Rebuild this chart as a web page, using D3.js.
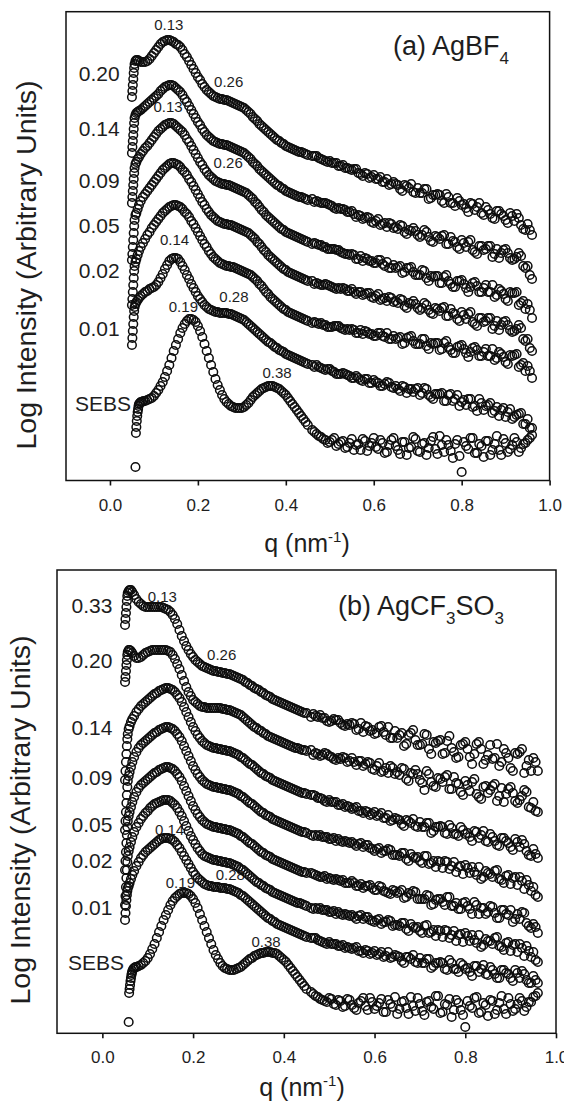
<!DOCTYPE html>
<html>
<head>
<meta charset="utf-8">
<script src="https://cdn.jsdelivr.net/npm/d3@7"></script>
<style>
  body { margin: 0; background: #fff; }
  svg { display: block; }
  text { font-family: "Liberation Sans", Arial, Helvetica, sans-serif; fill: #1e1e1e; }
</style>
</head>
<body>
<svg id="fig" width="564" height="1105"></svg>
<script>
// q grid (nm^-1) shared by the salt curves
const qLow = [0.050,0.051,0.052,0.053,0.054,0.055,0.056,0.058,0.060,0.063,0.066,0.070,0.075]
const qMid = [0.080,0.085,0.090,0.095,0.100,0.105,0.110,0.115,0.120,0.125,0.130,0.135,0.140,0.145,0.150,
  0.155,0.160,0.165,0.170,0.175,0.180,0.185,0.190,0.195,0.200,0.205,0.210,0.215,0.220,0.225,
  0.230,0.235,0.240,0.245,0.250,0.255,0.260,0.265,0.270,0.275,0.280,0.285,0.290,0.295,0.300,
  0.305,0.310,0.315,0.320,0.325,0.330,0.335,0.340,0.345,0.350,0.355,0.360,0.365,0.370,0.375,
  0.380,0.385,0.390,0.395,0.400,0.405,0.410,0.415,0.420,0.425,0.430,0.435,0.440,0.445,0.450]
const qTail = [0.46,0.47,0.48,0.49,0.50,0.51,0.52,0.53,0.54,0.55,0.56,0.57,0.58,0.59,0.60,0.61,0.62,
  0.63,0.64,0.65,0.66,0.67,0.68,0.69,0.70,0.71,0.72,0.73,0.74,0.75,0.76,0.77,0.78,0.79,0.80,0.81,
  0.82,0.83,0.84,0.85,0.86,0.87,0.88,0.89,0.90,0.91,0.92,0.93,0.94,0.95,0.96]
const qTailMid = [0.465,0.475,0.485,0.495,0.505,0.515,0.525,0.535,0.545,0.555,0.565,0.575,0.585,0.595,
  0.605,0.615,0.625,0.635,0.645,0.655,0.665,0.675,0.685,0.695,0.705,0.715,0.725,0.735,0.745,0.755,
  0.765,0.775,0.785,0.795,0.805,0.815,0.825,0.835,0.845,0.855,0.865,0.875,0.885,0.895,0.905,0.915,
  0.925,0.935,0.945,0.955]
// the neat SEBS film starts a little later in q
const qLowSebs = [0.058,0.059,0.060,0.061,0.062,0.063,0.064,0.065,0.066,0.068,0.070,0.073,0.076]

const qGrid = qLow.concat(qMid, qTail, qTailMid)
const qSebs = qLowSebs.concat(qMid, qTail, qTailMid)

// (a) AgBF4 -- log intensity, arbitrary units (curves offset for clarity)
const a020 = [403,409,415,421,427,432,436,439,440,440,439,438,438,
  438,439,441,444,447,450,453,456,458,459,460,460,459,458,456,455,453,450,446,443,
  439,435,431,427,423,420,416,413,410,408,406,404,403,402,401,401,400,400,399,398,
  397,396,395,394,393,392,390,388,386,383,381,379,376,374,372,370,368,366,364,362,
  360,359,357,356,354,353,352,351,350,349,348,348,347,346,345,
  344,344,341,339,339,337,334,335,332,330,331,326,327,322,325,321,318,321,316,316,
  311,315,312,308,312,307,311,302,305,305,297,303,297,302,295,292,297,290,297,285,
  290,282,289,286,280,287,279,282,271,276,265,
  344,342,340,338,337,337,334,332,331,331,327,324,326,323,321,323,318,315,318,315,
  309,314,316,307,307,311,301,305,306,299,306,297,294,299,296,288,296,293,287,293,
  286,281,289,284,277,284,286,275,270,270]
const a014 = [347,353,359,365,371,377,382,385,387,388,389,390,392,
  394,396,398,400,402,404,406,409,411,413,414,415,415,414,412,410,408,405,401,398,
  394,390,386,382,378,375,371,368,365,363,361,359,358,357,356,356,355,355,354,353,
  352,351,350,349,348,347,345,343,341,338,336,334,331,329,327,325,323,321,319,317,
  315,314,312,311,309,308,307,306,305,304,303,303,302,301,300,
  301,299,297,297,295,292,292,291,288,289,283,284,282,282,277,281,276,273,276,273,
  275,268,270,272,265,265,268,259,264,261,265,256,259,253,260,253,260,248,254,250,
  254,243,251,247,251,242,241,247,234,234,221,
  298,298,297,296,294,291,291,290,288,286,285,281,283,278,279,275,277,277,272,271,
  274,266,269,269,263,270,263,258,263,264,256,263,258,251,257,258,250,246,254,251,
  254,246,242,250,247,240,243,244,232,225]
const a009 = [297,303,309,315,321,327,332,336,338,341,343,346,349,
  352,354,357,360,363,366,369,371,373,375,376,377,377,376,374,372,370,368,365,361,
  358,354,350,346,342,338,335,331,328,325,323,321,319,318,317,316,316,315,315,314,
  313,312,311,310,309,308,307,305,303,301,298,296,293,290,288,285,283,281,279,277,
  275,273,271,270,268,267,266,265,264,263,262,261,260,259,258,
  256,256,255,253,251,251,250,247,246,246,241,244,242,239,237,240,236,238,232,232,
  234,228,232,228,225,230,222,224,224,217,223,219,213,219,220,212,213,218,208,212,
  208,215,205,209,201,208,207,195,199,196,182,
  257,255,253,251,251,250,248,246,245,245,241,239,241,239,237,240,234,232,235,233,
  227,232,233,225,225,229,219,223,224,217,225,216,213,219,216,208,217,214,208,215,
  208,203,211,206,199,207,208,197,191,190]
const a005 = [240,246,253,260,267,274,280,285,287,291,295,299,303,
  306,309,312,315,318,321,324,327,330,332,334,336,337,337,336,335,333,330,328,325,
  321,318,314,310,306,302,298,295,291,288,285,283,281,279,278,277,276,276,275,275,
  274,273,272,271,270,269,268,267,265,263,261,258,256,253,250,248,245,243,241,239,
  237,235,233,231,230,228,227,226,225,224,223,222,221,220,219,
  219,217,215,216,214,212,212,212,209,211,206,208,206,207,202,206,201,199,202,199,
  201,194,197,199,192,192,195,187,192,189,193,184,187,181,188,181,188,176,182,178,
  182,171,179,175,179,170,169,175,161,161,149,
  216,216,215,215,213,211,211,211,209,208,208,205,207,203,204,200,202,203,198,197,
  200,192,196,196,190,197,190,186,191,192,184,191,186,179,185,186,178,174,182,179,
  182,174,170,178,175,168,171,172,159,152]
const a002 = [195,201,208,215,222,229,234,238,241,245,249,253,257,
  261,265,268,272,275,278,281,284,287,289,291,293,294,295,295,294,293,291,288,286,
  283,279,276,272,268,264,260,256,253,249,246,243,241,239,237,236,235,234,234,233,
  233,232,231,230,229,228,227,226,225,223,221,219,216,214,211,208,206,203,201,199,
  197,195,193,191,190,188,187,186,185,184,183,182,181,180,179,
  177,177,177,175,173,174,174,171,171,171,167,170,169,166,164,167,164,167,161,161,
  163,157,163,159,156,161,154,157,157,150,157,153,147,153,155,147,148,153,144,148,
  144,151,142,146,138,145,145,133,137,134,122,
  178,176,175,173,173,174,172,170,170,170,167,166,168,166,164,167,163,161,164,162,
  156,162,164,156,156,161,151,156,157,151,159,150,147,154,151,143,152,150,144,151,
  144,140,148,143,136,144,146,135,129,129]
const a001 = [155,162,169,176,183,189,193,196,198,200,202,204,206,
  208,209,211,212,213,215,218,222,226,231,235,239,241,242,242,241,238,234,230,225,
  221,216,212,208,204,201,198,195,193,191,190,189,188,188,187,187,187,187,186,186,
  185,184,183,182,181,180,178,176,174,172,170,168,166,164,162,160,158,157,155,153,
  152,150,149,148,146,145,144,143,142,141,140,139,138,137,136,
  135,135,132,130,131,128,126,127,125,122,124,120,121,117,120,117,114,118,113,114,
  109,113,111,108,112,107,111,103,106,106,99,105,99,105,98,95,101,94,101,90,
  95,87,93,90,83,91,83,86,76,81,72,
  133,133,131,131,129,126,126,126,124,122,122,119,121,117,118,114,116,117,112,111,
  114,107,111,111,105,112,105,101,106,107,99,106,101,94,100,101,93,89,97,94,
  97,89,84,92,88,81,85,87,76,72]
const aSebs = [33,67,73,79,84,88,91,94,96,97,98,98,99,
  99,100,101,102,104,107,110,114,118,123,129,135,142,149,155,161,167,172,176,179,
  181,181,180,178,174,169,163,156,149,142,135,128,121,115,110,105,101,98,96,94,
  93,92,92,92,92,93,95,97,100,103,105,107,109,111,112,113,114,114,114,113,
  112,111,109,107,105,102,99,96,93,90,87,84,81,78,75,
  70,66,63,60,58,62,56,59,53,61,55,50,59,54,62,51,57,48,60,54,
  46,58,52,63,49,56,45,59,51,64,48,55,42,60,28,54,62,47,56,43,
  59,50,64,45,57,51,62,48,56,60,65,
  68,64,61,57,60,54,58,52,57,50,56,61,49,57,53,60,47,55,62,50,
  58,45,53,61,48,57,52,63,46,55,60,49,56,44,58,51,62,47,54,59,
  45,56,50,61,48,55,58,52,57,62]

// (b) AgCF3SO3
const b033 = [475,481,487,493,499,504,507,509,510,510,508,505,501,
  498,496,494,493,493,493,493,493,493,493,493,492,491,490,488,485,481,476,470,464,
  459,454,450,446,443,440,438,436,434,433,432,431,430,429,429,428,428,427,427,426,
  426,425,424,423,422,421,420,418,417,415,414,412,411,410,408,407,405,404,403,401,
  400,399,398,397,396,395,394,393,392,391,390,389,388,387,387,
  383,384,385,382,378,381,380,375,376,377,370,377,374,369,366,373,368,373,362,362,
  367,356,367,360,355,366,351,358,359,346,359,352,342,355,358,343,346,358,336,345,
  341,356,338,347,332,347,348,327,340,342,329,
  386,383,382,379,379,380,377,374,375,376,371,368,373,370,367,374,365,362,369,365,
  354,365,370,355,356,365,346,357,360,347,364,348,343,356,351,336,356,351,340,355,
  342,334,351,342,329,346,351,334,329,338]
const b020 = [418,423,429,435,440,445,448,450,450,449,447,444,442,
  442,443,445,447,448,449,450,450,450,450,450,450,450,449,448,445,441,436,431,425,
  419,413,408,404,400,398,396,394,393,393,392,392,392,392,392,392,392,391,391,390,
  390,389,388,387,386,385,383,381,379,377,375,373,372,370,369,367,366,364,363,362,
  361,360,359,358,357,356,355,354,353,352,352,351,350,350,349,
  350,347,344,347,344,341,342,343,338,342,335,339,336,337,330,337,329,327,332,328,
  332,321,327,330,320,310,326,314,322,318,325,311,317,308,319,309,321,303,313,307,
  314,299,312,306,313,299,300,310,293,298,288,
  345,346,345,346,343,340,341,342,339,338,339,334,338,331,334,328,332,334,326,325,
  331,319,326,326,317,329,318,313,321,323,311,323,316,305,315,318,306,301,314,310,
  316,304,298,311,307,297,304,308,292,289]
const b014 = [320,329,338,346,354,361,366,371,374,378,381,384,388,
  391,394,396,398,400,402,404,406,407,409,410,411,412,412,411,410,408,405,402,398,
  393,388,383,378,373,369,365,362,359,357,355,354,353,352,352,351,351,350,350,349,
  349,348,347,346,345,343,342,340,338,336,335,333,331,329,327,326,324,323,322,320,
  319,318,317,316,315,314,313,312,311,310,309,308,307,307,306,
  305,304,302,299,300,298,295,296,294,291,293,289,289,285,288,285,282,285,280,281,
  276,280,277,274,278,273,277,269,273,273,266,272,266,273,266,263,269,262,269,258,
  263,255,262,259,253,261,253,256,245,251,242,
  305,302,301,298,298,298,295,293,293,292,289,287,288,286,284,287,282,279,282,280,
  274,279,281,273,273,277,267,273,274,267,275,266,264,270,267,259,268,265,259,266,
  259,254,262,257,250,258,260,249,244,246]
const b009 = [270,279,288,297,305,313,319,324,328,333,338,343,348,
  352,355,357,359,361,363,365,367,368,370,371,372,373,373,372,371,369,366,363,359,
  354,349,344,339,334,330,326,323,320,318,316,315,314,313,313,312,312,311,311,310,
  310,309,308,307,306,304,303,301,299,297,296,294,292,290,288,287,285,284,283,281,
  280,279,278,277,276,275,274,273,272,271,270,269,268,268,267,
  265,265,265,263,261,262,261,258,258,258,254,257,255,252,249,252,249,251,245,245,
  247,241,246,242,239,244,236,239,239,232,238,234,228,234,235,227,228,233,223,227,
  223,230,220,224,216,223,223,211,215,213,203,
  264,264,263,263,261,259,259,259,257,256,256,253,255,251,251,247,249,250,245,244,
  247,239,243,243,237,244,237,233,238,239,231,238,233,226,232,233,225,221,229,226,
  229,221,217,225,222,215,219,220,209,205]
const b005 = [230,239,248,257,265,273,279,284,288,293,298,303,308,
  312,315,317,319,321,323,325,327,328,330,331,332,333,333,332,331,329,326,323,319,
  314,309,304,299,294,290,286,283,280,278,276,275,274,273,273,272,272,271,271,270,
  270,269,268,267,266,264,263,261,259,257,256,254,252,250,248,247,245,244,243,241,
  240,239,238,237,236,235,234,233,232,231,230,229,228,228,227,
  227,225,223,224,222,220,220,220,217,219,214,216,214,215,210,214,209,207,210,207,
  210,203,206,208,201,201,204,196,201,198,203,194,197,191,198,191,198,186,192,188,
  193,182,190,186,190,181,181,187,174,176,167,
  226,224,223,221,221,221,219,217,217,217,214,212,214,212,210,213,208,206,209,208,
  202,207,209,201,201,205,195,200,201,195,203,194,191,197,194,186,195,192,186,194,
  187,182,190,185,178,186,188,177,172,173]
const b002 = [195,204,213,222,230,238,244,249,253,258,263,268,273,
  277,281,284,287,289,292,294,296,297,298,299,300,300,300,299,297,295,292,288,284,
  279,274,269,264,260,256,252,249,246,244,243,242,241,240,240,239,239,238,238,237,
  237,236,235,234,233,231,230,228,226,224,222,220,218,217,215,214,212,211,210,208,
  207,206,205,204,203,202,201,200,199,198,197,197,196,195,194,
  192,192,192,190,188,189,188,185,185,185,181,185,183,180,178,181,178,180,174,175,
  177,171,176,172,169,174,167,170,170,163,169,165,159,166,167,159,160,165,155,159,
  156,163,153,157,149,156,156,144,149,148,138,
  191,191,190,190,188,186,186,186,184,183,184,181,183,179,180,176,178,179,175,174,
  177,169,173,173,167,175,168,164,169,170,162,169,165,158,164,165,157,153,161,159,
  162,154,150,158,155,148,152,154,143,140]
const b001 = [180,187,194,200,205,209,212,214,217,221,225,229,234,
  238,242,245,248,250,252,254,256,258,260,261,262,262,262,261,260,258,255,252,248,
  244,240,236,232,228,225,222,220,218,216,215,214,214,213,213,213,212,212,212,211,
  211,210,209,208,207,205,204,202,200,198,196,194,192,190,188,186,184,182,181,179,
  178,176,175,174,173,172,171,170,169,168,167,166,165,164,163,
  162,162,159,157,158,156,154,155,153,151,153,149,150,146,149,146,143,148,143,144,
  139,143,141,138,142,137,141,134,137,137,130,137,131,137,131,128,134,128,135,125,
  130,122,130,127,122,130,122,126,117,124,117,
  162,160,158,156,156,156,154,152,152,152,149,147,149,147,145,148,144,142,145,143,
  137,143,145,137,137,141,132,137,138,131,140,131,128,135,132,124,134,131,126,133,
  126,122,130,126,119,127,129,120,117,120]
const bSebs = [78,107,111,115,119,122,125,127,129,131,132,133,133,
  134,135,137,139,142,146,151,156,162,168,174,180,185,190,195,199,202,204,206,207,
  207,207,206,204,201,197,192,186,180,174,168,162,156,150,145,141,137,134,132,131,
  130,130,130,131,132,133,135,137,139,141,142,144,145,146,147,147,148,148,148,147,
  147,146,144,142,140,138,135,132,129,126,123,120,117,114,111,
  108,104,101,99,102,96,100,93,101,95,90,99,94,102,91,97,88,100,93,86,
  98,92,103,89,96,85,99,91,104,88,95,83,100,90,73,94,102,87,97,84,
  99,90,104,86,96,91,102,89,98,103,107,
  106,103,100,98,101,95,99,94,100,92,97,102,90,98,94,101,88,96,103,91,
  99,86,94,102,89,98,93,104,87,96,101,90,97,85,99,92,103,88,95,100,
  86,97,91,102,89,96,99,93,98,104]

// labels: salt content (mole ratio) per curve, and peak positions
const namesA = ['0.20', '0.14', '0.09', '0.05', '0.02', '0.01', 'SEBS']
const namesB = ['0.33', '0.20', '0.14', '0.09', '0.05', '0.02', '0.01', 'SEBS']
const nameLevelA = [427, 372, 320, 275, 230, 172, 97]
const nameLevelB = [495, 440, 373, 323, 276, 240, 193, 138]
const peakNotesA = [['0.13', 0.134, 475], ['0.26', 0.27, 418], ['0.13', 0.132, 393], ['0.26', 0.269, 337],
  ['0.14', 0.147, 260], ['0.28', 0.282, 203], ['0.19', 0.167, 193], ['0.38', 0.38, 127]]
const peakNotesB = [['0.13', 0.132, 503], ['0.26', 0.263, 445], ['0.14', 0.148, 270],
  ['0.28', 0.282, 225], ['0.19', 0.172, 217], ['0.38', 0.361, 158]]
const xTicks = [0.0, 0.2, 0.4, 0.6, 0.8, 1.0]

const svg = d3.select('#fig')

function drawPanel(p) {
  var x = d3.scaleLinear().domain([-0.1, 1.0]).range([p.left, p.right])
  var y = d3.scaleLinear().domain(p.yDomain).range([p.bottom, p.top])
  var g = svg.append('g')

  // PEAK POSITION NOTES (under the data, like the original)
  g.selectAll('text.peak')
    .data(p.peaks)
    .join('text')
    .attr('class', 'peak')
    .attr('x', d => x(d[1]))
    .attr('y', d => y(d[2]))
    .attr('dy', '0.36em')
    .attr('text-anchor', 'middle')
    .attr('font-size', 15)
    .text(d => d[0])

  // OPEN CIRCLE SERIES
  p.series.forEach(function(s) {
    var n = Math.min(s.q.length, s.v.length)
    var pts = d3.range(n).map(i => [s.q[i], s.v[i]])
    g.append('g')
      .selectAll('circle')
      .data(pts)
      .join('circle')
      .attr('cx', d => x(d[0]))
      .attr('cy', d => y(d[1]))
      .attr('r', 4.3)
      .attr('fill', 'none')
      .attr('stroke', '#0d0d0d')
      .attr('stroke-width', 1.5)
  })

  // CURVE NAMES ON THE LEFT
  g.selectAll('text.name')
    .data(p.names)
    .join('text')
    .attr('class', 'name')
    .attr('x', d => x(d === 'SEBS' ? 0.048 : 0.022))
    .attr('y', (d, i) => y(p.levels[i]))
    .attr('dy', '0.36em')
    .attr('text-anchor', 'end')
    .attr('font-size', 21)
    .text(d => d)

  // FRAME
  g.append('rect')
    .attr('x', p.left)
    .attr('y', p.top)
    .attr('width', p.right - p.left)
    .attr('height', p.bottom - p.top)
    .attr('fill', 'none')
    .attr('stroke', '#111')
    .attr('stroke-width', 1.5)

  // X-AXIS
  var ax = g.append('g')
    .attr('transform', 'translate(0,' + p.bottom + ')')
    .call(d3.axisBottom(x).tickValues(xTicks).tickFormat(d3.format('.1f')).tickSize(5).tickPadding(13))
  ax.select('.domain').remove()
  ax.selectAll('line').attr('stroke', '#111').attr('stroke-width', 1.6)
  ax.selectAll('text')
    .attr('font-size', 17)
    .attr('font-family', '"Liberation Sans", Arial, sans-serif')
    .attr('fill', '#222')

  // X-AXIS LABEL
  var xl = g.append('text')
    .attr('x', p.xLabelX)
    .attr('y', p.xLabelY)
    .attr('text-anchor', 'middle')
    .attr('font-size', 25)
  xl.append('tspan').text('q (nm')
  xl.append('tspan').attr('font-size', 15).attr('dy', -10).text('-1')
  xl.append('tspan').attr('dy', 10).text(')')

  // Y-AXIS LABEL
  g.append('text')
    .attr('transform', 'translate(' + p.yLabelX + ',' + p.yLabelY + ') rotate(-90)')
    .attr('text-anchor', 'middle')
    .attr('font-size', 28.5)
    .text('Log Intensity (Arbitrary Units)')

  // PANEL TITLE
  var t = g.append('text')
    .attr('x', p.titleX)
    .attr('y', p.titleY)
    .attr('font-size', 27)
  p.title.forEach(function(part) {
    if (part.sub) {
      t.append('tspan').attr('font-size', 17).attr('dy', 9).text(part.s)
    } else {
      t.append('tspan').attr('dy', part.back ? -9 : 0).text(part.s)
    }
  })
}

drawPanel({
  left: 66, right: 549.6, top: 11.7, bottom: 480.5,
  yDomain: [19.5, 488.3],
  series: [a020, a014, a009, a005, a002, a001].map(v => ({ q: qGrid, v: v }))
    .concat([{ q: qSebs, v: aSebs }]),
  names: namesA, levels: nameLevelA, peaks: peakNotesA,
  xLabelX: 307, xLabelY: 552, yLabelX: 36, yLabelY: 265,
  titleX: 393, titleY: 55,
  title: [{ s: '(a) AgBF' }, { s: '4', sub: true }]
})

drawPanel({
  left: 57, right: 556, top: 570, bottom: 1033.3,
  yDomain: [66.7, 530],
  series: [b033, b020, b014, b009, b005, b002, b001].map(v => ({ q: qGrid, v: v }))
    .concat([{ q: qSebs, v: bSebs }]),
  names: namesB, levels: nameLevelB, peaks: peakNotesB,
  xLabelX: 302, xLabelY: 1096, yLabelX: 30, yLabelY: 820,
  titleX: 338, titleY: 615,
  title: [{ s: '(b) AgCF' }, { s: '3', sub: true }, { s: 'SO', back: true }, { s: '3', sub: true }]
})
</script>
</body>
</html>
